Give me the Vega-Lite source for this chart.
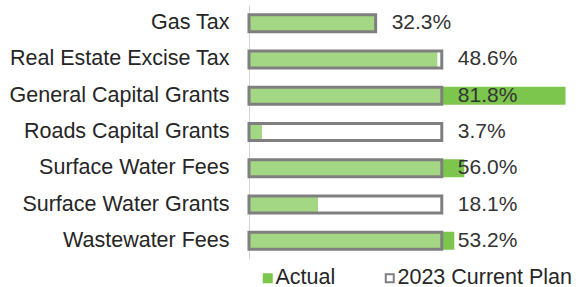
{
  "$schema": "https://vega.github.io/schema/vega-lite/v6.json",
  "width": 320,
  "height": 254,
  "autosize": {"type": "none"},
  "padding": {"left": 249, "top": 5, "right": 7, "bottom": 28},
  "background": "white",
  "config": {
    "view": {"stroke": null},
    "font": "Liberation Sans",
    "axis": {"labelFont": "Liberation Sans"},
    "legend": {"labelFont": "Liberation Sans", "padding": 0}
  },
  "data": {
    "values": [
      {"category": "Gas Tax", "type": "Actual", "value": 65.7},
      {"category": "Gas Tax", "type": "2023 Current Plan", "value": 65.7, "label": "32.3%"},
      {"category": "Real Estate Excise Tax", "type": "Actual", "value": 97.7},
      {"category": "Real Estate Excise Tax", "type": "2023 Current Plan", "value": 100, "label": "48.6%"},
      {"category": "General Capital Grants", "type": "Actual", "value": 164.2},
      {"category": "General Capital Grants", "type": "2023 Current Plan", "value": 100, "label": "81.8%"},
      {"category": "Roads Capital Grants", "type": "Actual", "value": 6.75},
      {"category": "Roads Capital Grants", "type": "2023 Current Plan", "value": 100, "label": "3.7%"},
      {"category": "Surface Water Fees", "type": "Actual", "value": 111.7},
      {"category": "Surface Water Fees", "type": "2023 Current Plan", "value": 100, "label": "56.0%"},
      {"category": "Surface Water Grants", "type": "Actual", "value": 35.8},
      {"category": "Surface Water Grants", "type": "2023 Current Plan", "value": 100, "label": "18.1%"},
      {"category": "Wastewater Fees", "type": "Actual", "value": 106.5},
      {"category": "Wastewater Fees", "type": "2023 Current Plan", "value": 100, "label": "53.2%"}
    ]
  },
  "encoding": {
    "y": {
      "field": "category",
      "type": "nominal",
      "sort": null,
      "scale": {"paddingInner": 0, "paddingOuter": 0},
      "axis": {
        "title": null,
        "ticks": false,
        "labelPadding": 20,
        "labelFontSize": 21.5,
        "labelLimit": 0,
        "labelColor": "#262626",
        "domainColor": "#d4d4d4",
        "domainWidth": 1,
        "grid": false
      }
    },
    "x": {
      "field": "value",
      "type": "quantitative",
      "scale": {"domain": [0, 166], "nice": false, "zero": true},
      "axis": null
    }
  },
  "layer": [
    {
      "transform": [{"filter": "datum.type === 'Actual'"}],
      "mark": {"type": "bar", "size": 18, "strokeWidth": 0},
      "encoding": {
        "fill": {
          "field": "type",
          "type": "nominal",
          "scale": {"domain": ["Actual", "2023 Current Plan"], "range": ["#7dc64e", "#ffffff"]},
          "legend": {
            "title": null,
            "orient": "none",
            "legendX": 8,
            "legendY": 262,
            "direction": "horizontal",
            "symbolType": "square",
            "symbolSize": 64,
            "symbolStrokeWidth": 2,
            "labelFontSize": 21.5,
            "labelLimit": 0,
            "labelColor": "#262626",
            "labelOffset": -3,
            "columnPadding": 43
          }
        },
        "stroke": {
          "field": "type",
          "type": "nominal",
          "scale": {"domain": ["Actual", "2023 Current Plan"], "range": ["#7dc64e", "#7f7f7f"]},
          "legend": {
            "title": null,
            "orient": "none",
            "legendX": 8,
            "legendY": 262,
            "direction": "horizontal",
            "symbolType": "square",
            "symbolSize": 64,
            "symbolStrokeWidth": 2,
            "labelFontSize": 21.5,
            "labelLimit": 0,
            "labelColor": "#262626",
            "labelOffset": -3,
            "columnPadding": 43
          }
        }
      }
    },
    {
      "transform": [{"filter": "datum.type !== 'Actual'"}],
      "mark": {"type": "bar", "size": 17, "strokeWidth": 3, "fillOpacity": 0.3},
      "encoding": {
        "fill": {"field": "type", "type": "nominal"},
        "stroke": {"field": "type", "type": "nominal"}
      }
    },
    {
      "transform": [{"filter": "datum.type !== 'Actual'"}],
      "mark": {"type": "text", "align": "left", "baseline": "middle", "dx": 16, "fontSize": 21, "color": "#333333"},
      "encoding": {
        "text": {"field": "label", "type": "nominal"}
      }
    }
  ]
}
